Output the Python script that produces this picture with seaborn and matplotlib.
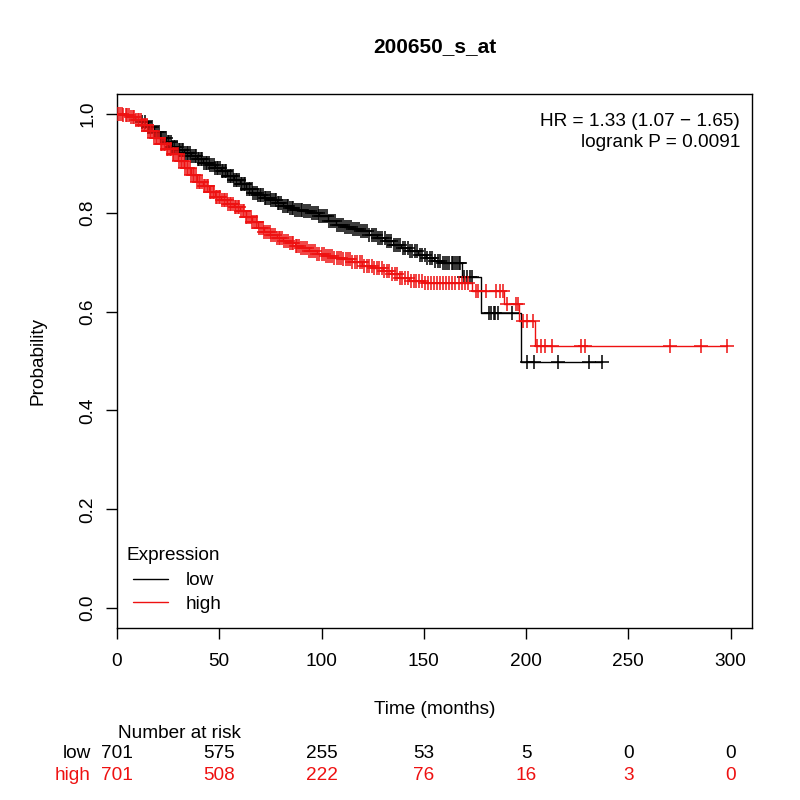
import numpy as np
import pandas as pd
import matplotlib
matplotlib.use("Agg")
import matplotlib.pyplot as plt
import seaborn as sns
from matplotlib.lines import Line2D

# survival steps (time in months, probability after the drop)
low_times = [0, 3, 6, 9, 12, 15, 18, 21, 24, 27, 30, 33, 36, 39, 42, 45, 48, 51, 54, 57,
             60, 63, 66, 69, 72, 75, 78, 81, 84, 87, 91, 95, 99, 103, 107, 111, 115, 119,
             123, 127, 131, 135, 139, 143, 147, 151, 155, 159, 168.5, 178, 197.6]
low_surv = [1.0, 0.998, 0.994, 0.99, 0.983, 0.974, 0.963, 0.952, 0.942, 0.933, 0.926, 0.921,
            0.915, 0.908, 0.901, 0.896, 0.891, 0.884, 0.875, 0.866, 0.857, 0.848, 0.84, 0.835,
            0.83, 0.826, 0.82, 0.814, 0.809, 0.806, 0.803, 0.8, 0.793, 0.783, 0.776, 0.771,
            0.766, 0.762, 0.755, 0.748, 0.742, 0.735, 0.729, 0.722, 0.715, 0.709, 0.703,
            0.698, 0.67, 0.597, 0.497]

high_times = [0, 3, 6, 9, 12, 15, 18, 21, 24, 27, 30, 33, 36, 39, 42, 45, 48, 51, 54, 57,
              60, 63, 66, 69, 72, 75, 78, 81, 84, 87, 90, 94, 98, 102, 106, 110, 115, 120,
              125, 130, 134, 138, 143, 150, 173.7, 189, 196.6, 204.4]
high_surv = [1.0, 0.997, 0.993, 0.987, 0.978, 0.966, 0.952, 0.938, 0.928, 0.918, 0.905, 0.89,
             0.876, 0.863, 0.853, 0.842, 0.832, 0.825, 0.818, 0.811, 0.803, 0.792, 0.781, 0.77,
             0.761, 0.755, 0.749, 0.743, 0.738, 0.733, 0.728, 0.722, 0.717, 0.713, 0.709,
             0.706, 0.7, 0.693, 0.688, 0.683, 0.676, 0.668, 0.662, 0.657, 0.641, 0.615, 0.58,
             0.531]

# censoring times (marked with +), estimated from the dense bands
low_censor = [12.4, 13.8, 15.1, 16.3, 17.2, 18.6, 19.4, 20.3, 21.5, 22.2, 23.1, 23.9, 24.8,
              25.6, 26.3, 27.1, 27.9, 28.6, 29.4, 30.2, 30.9, 31.7, 32.4, 33.3, 34.1, 34.8,
              35.6, 36.4, 37.1, 37.9, 38.7, 39.4, 40.2, 41.1, 41.8, 42.6, 43.3, 44.2, 44.9,
              45.7, 46.5, 47.2, 48.1, 48.8, 49.6, 50.4, 51.2, 51.9, 52.7, 53.5, 54.3, 55.1,
              55.8, 56.6, 57.4, 58.2, 58.9, 59.7, 60.5, 61.3, 62.1, 62.8, 63.6, 64.4, 65.2,
              65.9, 66.7, 67.5, 68.3, 69.1, 69.8, 70.6, 71.4, 72.3, 73.1, 73.8, 74.6, 75.5,
              76.3, 77.1, 77.9, 78.6, 79.4, 80.3, 81.2, 82.1, 82.9, 83.7, 84.6, 85.5, 86.3,
              87.2, 88.1, 89.0, 89.8, 90.7, 91.6, 92.6, 93.5, 94.4, 95.3, 96.2, 97.1, 98.1,
              99.0, 99.9, 100.9, 101.8, 102.8, 103.7, 104.7, 105.6, 106.6, 107.5, 108.5,
              109.4, 110.4, 111.4, 112.3, 113.3, 114.3, 115.2, 116.2, 117.3, 118.3, 119.3,
              120.3, 121.4, 122.4, 123.4, 124.5, 125.5, 126.6, 127.6, 128.7, 129.8, 130.9,
              132.0, 133.1, 134.1, 135.3, 136.4, 137.5, 138.6, 139.8, 140.9, 142.1, 143.2,
              144.4, 145.6, 146.8, 148.0, 149.2, 150.4, 151.7, 152.9, 154.2, 155.5, 156.8,
              158.1, 159.4, 160.2, 161.3, 162.5, 163.6, 164.4, 165.3, 166.2, 167.1, 167.8,
              169.8, 171.2, 172.4, 173.7, 182.0, 183.0, 184.1, 185.0, 186.5, 193.0, 200.6,
              203.9, 215.6, 230.7, 237.2]
high_censor = [0.6, 1.4, 2.3, 3.1, 4.2, 5.0, 5.9, 6.8, 7.6, 8.5, 9.3, 10.1, 10.9, 11.6, 12.4,
               13.1, 13.8, 14.6, 15.3, 16.1, 16.8, 17.6, 18.3, 19.1, 19.8, 20.6, 21.3, 22.1,
               22.8, 23.6, 24.3, 25.1, 25.8, 26.6, 27.3, 28.1, 28.8, 29.6, 30.3, 31.1, 31.8,
               32.6, 33.3, 34.1, 34.8, 35.6, 36.3, 37.1, 37.8, 38.6, 39.3, 40.1, 40.8, 41.6,
               42.3, 43.1, 43.8, 44.6, 45.3, 46.1, 46.8, 47.6, 48.3, 49.1, 49.8, 50.6, 51.3,
               52.1, 52.8, 53.6, 54.3, 55.1, 55.9, 56.7, 57.5, 58.2, 59.0, 59.8, 60.6, 61.4,
               62.2, 63.0, 63.8, 64.6, 65.4, 66.2, 67.0, 67.8, 68.7, 69.5, 70.3, 71.2, 72.0,
               72.9, 73.7, 74.6, 75.5, 76.3, 77.2, 78.1, 79.0, 79.9, 80.8, 81.7, 82.6, 83.5,
               84.5, 85.4, 86.3, 87.3, 88.2, 89.2, 90.1, 91.1, 92.1, 93.0, 94.0, 95.0, 96.0,
               97.0, 98.0, 99.0, 100.1, 101.1, 102.1, 103.2, 104.2, 105.3, 106.3, 107.4,
               108.5, 109.6, 110.7, 111.8, 112.9, 114.0, 115.1, 116.3, 117.4, 118.6, 119.7,
               120.9, 122.1, 123.3, 124.5, 125.7, 126.9, 128.1, 129.4, 130.6, 131.9, 133.1,
               134.4, 135.7, 137.0, 138.3, 139.6, 140.9, 142.3, 143.6, 145.0, 146.4, 147.8,
               149.2, 150.6, 152.0, 153.5, 154.9, 156.4, 157.9, 159.4, 160.9, 162.4, 164.0,
               165.5, 167.1, 168.6, 170.2, 171.8, 175.5, 176.7, 180.6, 185.2, 187.1, 188.8,
               190.9, 195.0, 196.3, 198.5, 200.6, 203.4, 205.5, 207.2, 209.1, 212.5, 226.8,
               229.0, 270.6, 285.8, 298.5]

risk_times = [0, 50, 100, 150, 200, 250, 300]
risk_low = [701, 575, 255, 53, 5, 0, 0]
risk_high = [701, 508, 222, 76, 16, 3, 0]

hr_text = "HR = 1.33 (1.07 \u2212 1.65)"
p_text = "logrank P = 0.0091"

FS = 13.7

sns.set_style("ticks")
plt.rcParams["font.family"] = ["Liberation Sans", "DejaVu Sans"]
plt.rcParams["font.size"] = FS
plt.rcParams["text.color"] = "black"
plt.rcParams["xtick.color"] = "black"
plt.rcParams["ytick.color"] = "black"

fig = plt.figure(figsize=(8, 8), dpi=100)
ax = fig.add_axes([0.14625, 0.215, 0.79375, 0.6675])


def step_frame(times, surv, censor, group):
    end = max(censor[-1], times[-1])
    t = list(times) + [end]
    s = list(surv) + [surv[-1]]
    return pd.DataFrame({"time": t, "surv": s, "group": group})


def censor_frame(times, surv, censor, group):
    idx = np.searchsorted(times, censor, side="right") - 1
    return pd.DataFrame({"time": censor, "surv": np.array(surv)[idx], "group": group})


curves = pd.concat([step_frame(low_times, low_surv, low_censor, "low"),
                    step_frame(high_times, high_surv, high_censor, "high")])
marks = pd.concat([censor_frame(low_times, low_surv, low_censor, "low"),
                   censor_frame(high_times, high_surv, high_censor, "high")])
palette = {"low": "black", "high": "#ee1111"}

for g in ["low", "high"]:
    sub = curves[curves.group == g]
    sns.lineplot(data=sub, x="time", y="surv", color=palette[g], drawstyle="steps-post",
                 estimator=None, sort=False, lw=1.0, ax=ax, legend=False)
    msub = marks[marks.group == g]
    sns.scatterplot(data=msub, x="time", y="surv", color=palette[g], marker="+", s=90,
                    linewidth=1.1, ax=ax, legend=False, zorder=3)

ax.set_xlim(0, 310.5)
ax.set_ylim(-0.04, 1.04)
ax.set_xticks(risk_times)
ax.set_yticks([0.0, 0.2, 0.4, 0.6, 0.8, 1.0])
ax.set_yticklabels(["0.0", "0.2", "0.4", "0.6", "0.8", "1.0"], rotation=90, va="center")
ax.tick_params(axis="both", length=8, width=1, color="black", labelsize=FS,
               labelcolor="black")
ax.tick_params(axis="x", pad=10)
ax.tick_params(axis="y", pad=7)
for sp in ax.spines.values():
    sp.set_visible(True)
    sp.set_linewidth(1.0)
    sp.set_color("black")
ax.set_xlabel("")
ax.set_ylabel("")

fig.text(0.5431, 1 - 47 / 800, "200650_s_at", ha="center", va="center",
         fontsize=15, fontweight="bold")
fig.text(38 / 800, 1 - 361 / 800, "Probability", rotation=90, ha="center", va="center",
         fontsize=FS)
fig.text(0.5431, 1 - 709 / 800, "Time (months)", ha="center", va="center", fontsize=FS)

ax.text(0.981, 0.949, hr_text, transform=ax.transAxes, ha="right", va="center", fontsize=FS)
ax.text(0.981, 0.909, p_text, transform=ax.transAxes, ha="right", va="center", fontsize=FS)

# legend: title as text, entries through legend()
ax.text((127 - 117) / 635, (628 - 555) / 534, "Expression", transform=ax.transAxes,
        ha="left", va="center", fontsize=FS)
handles = [Line2D([], [], color=palette["low"], lw=1.0),
           Line2D([], [], color=palette["high"], lw=1.0)]
ax.legend(handles, ["low", "high"], loc="upper left",
          bbox_to_anchor=((133 - 117) / 635, (628 - 572) / 534), frameon=False,
          fontsize=FS, handlelength=1.84, handletextpad=0.95, labelspacing=0.32,
          borderpad=0, borderaxespad=0)

# number at risk table
fig.text(118 / 800, 1 - 733 / 800, "Number at risk", ha="left", va="center", fontsize=FS)
for label, vals, col, ypx in [("low", risk_low, palette["low"], 754),
                              ("high", risk_high, palette["high"], 775)]:
    yfig = 1 - ypx / 800
    fig.text(91 / 800, yfig, label, ha="right", va="center", color=col, fontsize=FS)
    for t, v in zip(risk_times, vals):
        xfig = fig.transFigure.inverted().transform(ax.transData.transform((t, 0)))[0]
        fig.text(xfig, yfig, str(v), ha="center", va="center", color=col, fontsize=FS)

fig.savefig("out.png", dpi=100)
